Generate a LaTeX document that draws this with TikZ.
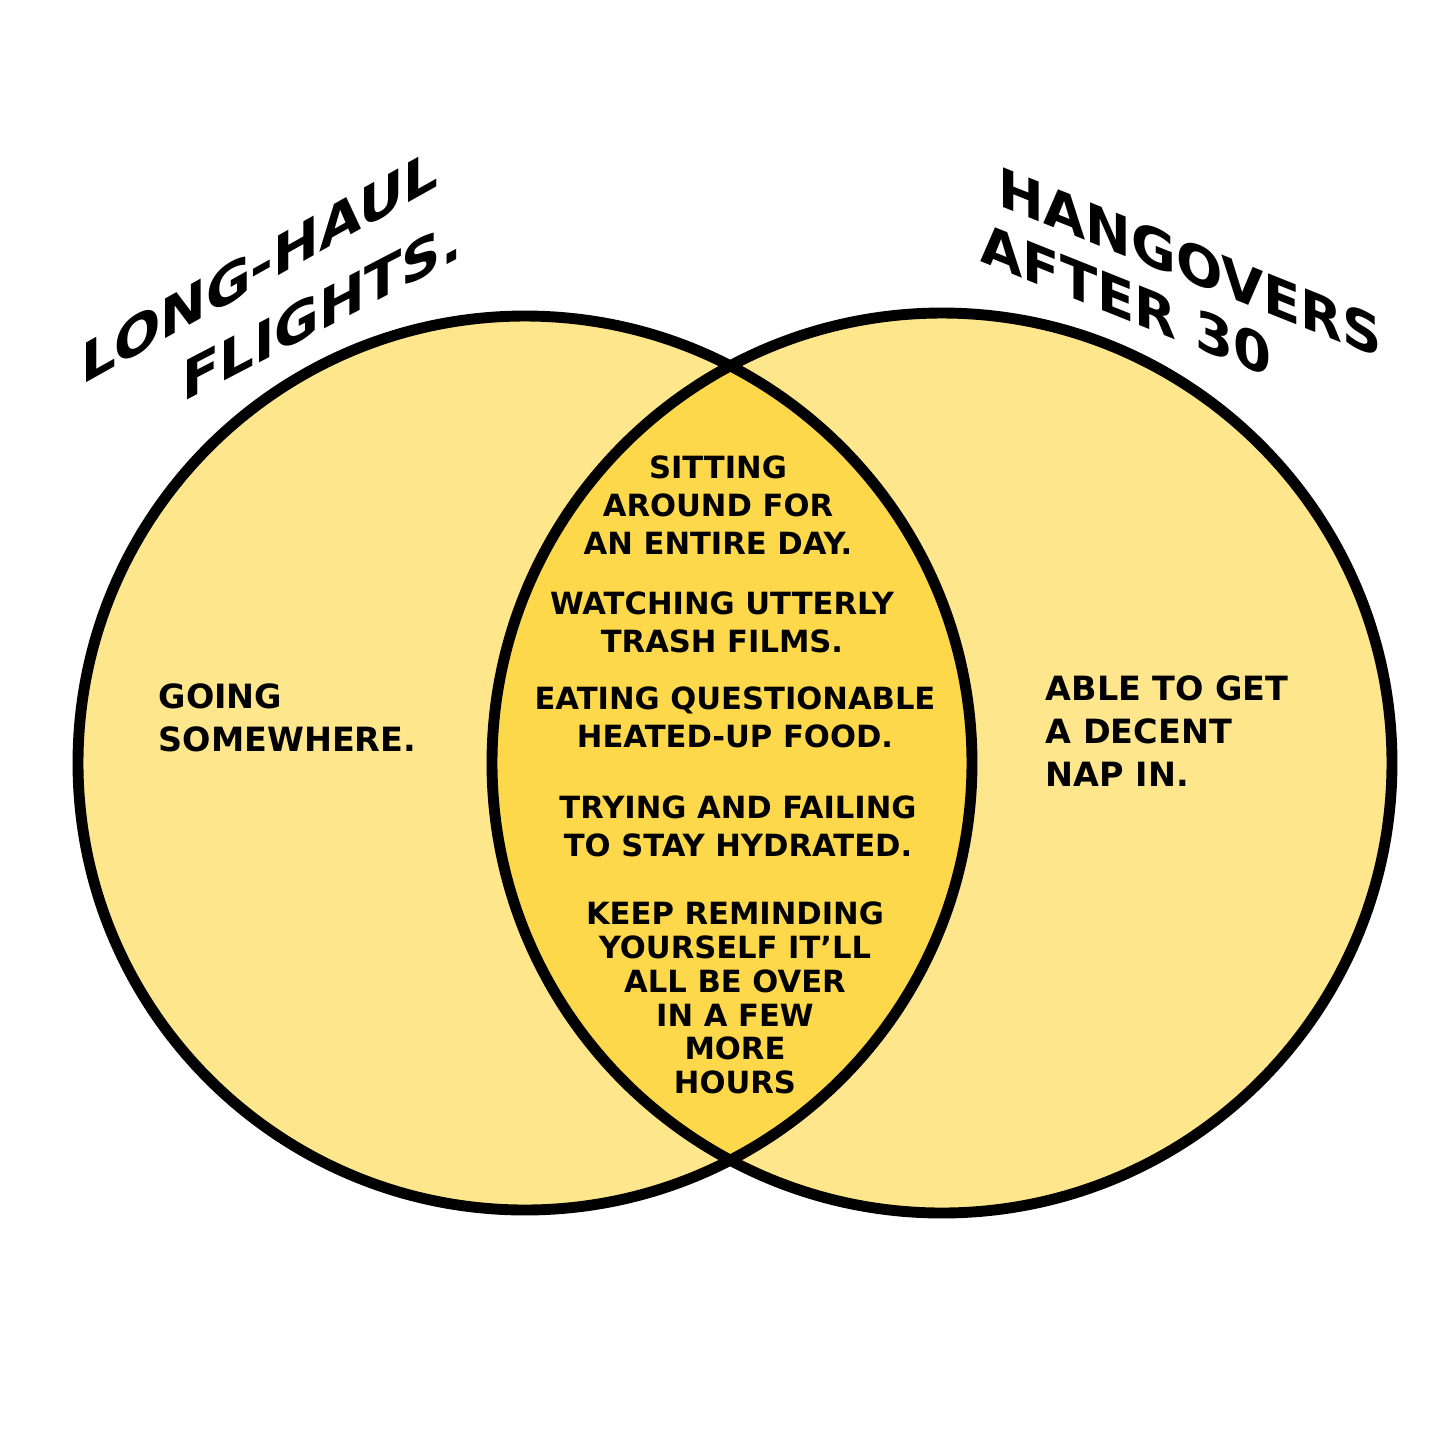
\documentclass[tikz,border=0pt]{standalone}
\usepackage{fontspec}
\setmainfont{DejaVu Sans}
\usetikzlibrary{positioning}
\definecolor{paleyellow}{RGB}{253,230,139}
\definecolor{lensyellow}{RGB}{252,216,74}

\begin{document}
\begin{tikzpicture}[x = 0.01cm, y = -0.01cm,
  ring/.style = {draw = black, line width = 3.1pt},
  title/.style = {font = \bfseries\fontsize{15.5}{18}\selectfont, inner sep = 0pt},
  side/.style = {font = \bfseries\fontsize{9.5}{12.2}\selectfont, align = left, inner sep = 0pt, anchor = west},
  item/.style = {font = \bfseries\fontsize{8.7}{10.8}\selectfont, align = center, inner sep = 0pt}]
\useasboundingbox (0,0) rectangle (1456,1456);
\fill[paleyellow] (525,763) circle (447);
\fill[paleyellow] (942,763) circle (450);
\begin{scope}
\clip (525,763) circle (447);
\fill[lensyellow] (942,763) circle (450);
\end{scope}
\draw[ring] (525,763) circle (447);
\draw[ring] (942,763) circle (450);
% titles
\node[title, yslant = 0.56]  (long)    at (260,266) {LONG-HAUL};
\node[title, yslant = 0.52]  (flights) at (322,310) {FLIGHTS.};
\node[title, yslant = -0.40] (hang)    at (1190,262) {HANGOVERS};
\node[title, yslant = -0.40] (after)   at (1126,300) {AFTER 30};
% outer parts
\node[side] (going) at (158,718) {GOING\\SOMEWHERE.};
\node[side] (nap)   at (1045,731) {ABLE TO GET\\A DECENT\\NAP IN.};
% the lens
\node[item] (sit)   at (718,505) {SITTING\\AROUND FOR\\AN ENTIRE DAY.};
\node[item] (watch) at (722,622) {WATCHING UTTERLY\\TRASH FILMS.};
\node[item] (eat)   at (735,717) {EATING QUESTIONABLE\\HEATED-UP FOOD.};
\node[item] (try)   at (738,826) {TRYING AND FAILING\\TO STAY HYDRATED.};
\node[item, font = \bfseries\fontsize{8.7}{9.6}\selectfont] (keep) at (735,998)
  {KEEP REMINDING\\YOURSELF IT'LL\\ALL BE OVER\\IN A FEW\\MORE\\HOURS};
\end{tikzpicture}
\end{document}
